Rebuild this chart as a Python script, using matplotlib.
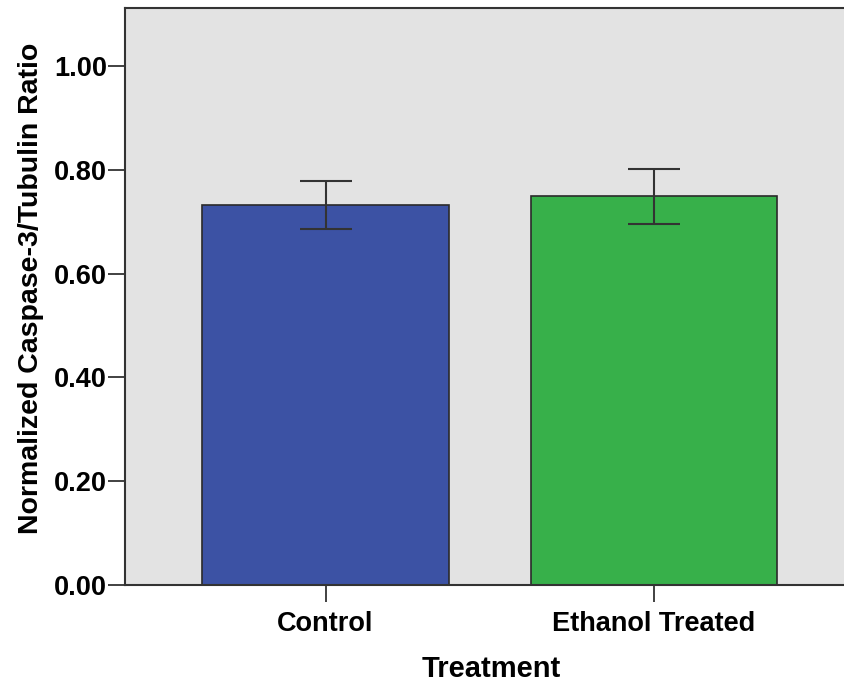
import matplotlib
matplotlib.use("Agg")
import matplotlib.pyplot as plt

categories = ["Control", "Ethanol Treated"]
means = [0.733, 0.750]
err_low = [0.687, 0.696]
err_high = [0.779, 0.801]
bar_colors = ["#3c52a4", "#37b04a"]
yticks = [0.0, 0.2, 0.4, 0.6, 0.8, 1.0]

plt.rcParams["font.family"] = ["Liberation Sans", "DejaVu Sans"]
plt.rcParams["font.weight"] = "bold"

fig = plt.figure(figsize=(8.45, 6.83), dpi=100)
ax = fig.add_axes([125 / 845, 98 / 683, 1 - 125 / 845, 577 / 683])
ax.set_facecolor("#e3e3e3")

x = list(range(len(categories)))
yerr = [[m - lo for m, lo in zip(means, err_low)],
        [hi - m for m, hi in zip(means, err_high)]]
ax.bar(x, means, width=0.75, color=bar_colors, edgecolor="#2a2a2a", linewidth=1.2, zorder=2)
ax.errorbar(x, means, yerr=yerr, fmt="none", ecolor="#333333", elinewidth=1.5,
            capsize=19, capthick=1.5, zorder=3)

ax.set_xlim(-0.611, 1.583)
ax.set_ylim(0, 1.112)
ax.set_xticks(x)
ax.set_xticklabels(categories, fontsize=19.5, fontweight="bold")
ax.set_yticks(yticks)
ax.set_yticklabels([f"{v:.2f}" for v in yticks], fontsize=19.5, fontweight="bold")
ax.tick_params(axis="both", direction="out", length=12, width=1.3, color="#333333")
ax.tick_params(axis="x", pad=7)
ax.tick_params(axis="y", pad=1)

for side in ["left", "bottom", "top"]:
    ax.spines[side].set_color("#333333")
    ax.spines[side].set_linewidth(1.5)
ax.spines["right"].set_visible(False)

ax.set_xlabel("Treatment", fontsize=21, fontweight="bold")
ax.set_ylabel("Normalized Caspase-3/Tubulin Ratio", fontsize=20.5, fontweight="bold")
ax.xaxis.set_label_coords(0.508, -0.122)
ax.yaxis.set_label_coords(-0.112, 0.515)

fig.savefig("out.png", dpi=100)
